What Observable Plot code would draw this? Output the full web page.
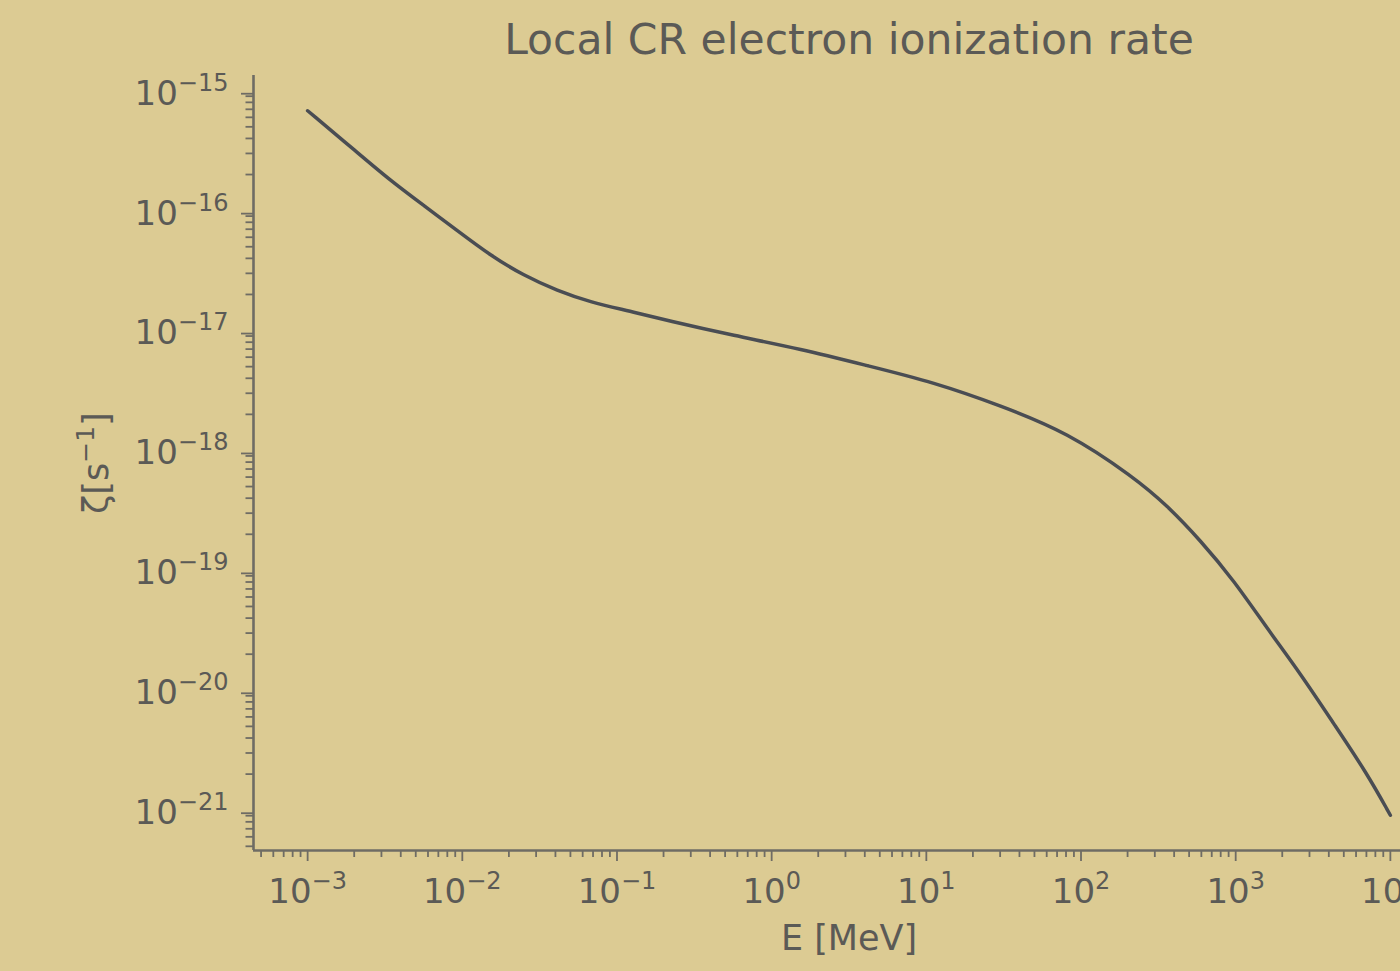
<!DOCTYPE html>
<html><head><meta charset="utf-8">
<script src="https://cdn.jsdelivr.net/npm/d3@7"></script>
<script src="https://cdn.jsdelivr.net/npm/@observablehq/plot@0.6"></script>
<style>
html,body{margin:0;padding:0;background:#dccb93;overflow:hidden;width:1400px;height:971px}
#chart{position:absolute;left:0;top:0}
#chart svg{max-width:none !important;width:1460px !important;height:971px !important}
</style></head><body><div id="chart"></div>
<script>
// ---- data ----
const energyMeV = [0.001, 0.002094, 0.003439, 0.005649, 0.00929, 0.01524, 0.025, 0.04111, 0.06745, 0.1225, 0.2113, 0.5702, 1.538, 4.15, 11.17, 30.2, 81.47, 219.3, 360.6, 591.6, 972.7, 1600, 2624, 4305, 7079, 10000];
const zeta = [6.81e-16, 3.06e-16, 1.778e-16, 1.102e-16, 6.81e-17, 4.22e-17, 2.87e-17, 2.15e-17, 1.72e-17, 1.449e-17, 1.211e-17, 9.08e-18, 7.03e-18, 5.10e-18, 3.71e-18, 2.37e-18, 1.422e-18, 6.00e-19, 3.48e-19, 1.778e-19, 8.26e-20, 3.27e-20, 1.377e-20, 5.27e-21, 2.02e-21, 9.08e-22];
const xMajor = [1e-3, 1e-2, 1e-1, 1, 10, 100, 1000, 10000];
const xExponents = ["−3", "−2", "−1", "0", "1", "2", "3", "4"];
const yMajor = [1e-21, 1e-20, 1e-19, 1e-18, 1e-17, 1e-16, 1e-15];
const yExponents = ["−21", "−20", "−19", "−18", "−17", "−16", "−15"];
const minorMultipliers = [2, 3, 4, 5, 6, 7, 8, 9];
const xMinorDecades = [1e-4, 1e-3, 1e-2, 1e-1, 1, 10, 100, 1000, 10000];
const yMinorDecades = [1e-22, 1e-21, 1e-20, 1e-19, 1e-18, 1e-17, 1e-16, 1e-15];
const titleText = "Local CR electron ionization rate";
const xLabel = "E [MeV]";
const yLabel = "ζ[s^{−1}]";

// ---- layout ----
const W = 1460, H = 971;
const xDomain = [Math.pow(10, -3.35), Math.pow(10, 4.35)];
const yDomain = [Math.pow(10, -21.336), Math.pow(10, -14.873)];
const inRange = (v, dom) => v >= dom[0] && v <= dom[1];
const xMinor = xMinorDecades.flatMap(d => minorMultipliers.map(m => m * d)).filter(v => inRange(v, xDomain));
const yMinor = yMinorDecades.flatMap(d => minorMultipliers.map(m => m * d)).filter(v => inRange(v, yDomain));
const data = energyMeV.map((E, i) => ({E, zeta: zeta[i]}));

const ink = "#6f6c64";
const textInk = "#5b5a56";

const chart = Plot.plot({
  width: W, height: H,
  marginLeft: 253, marginRight: W - 1444, marginTop: 75, marginBottom: 121,
  style: {background: "transparent", fontFamily: "DejaVu Sans", color: textInk, overflow: "visible"},
  x: {type: "log", domain: xDomain, axis: null, label: null},
  y: {type: "log", domain: yDomain, axis: null, label: null},
  marks: [
    Plot.axisX({ticks: xMinor, tickSize: 7, tickFormat: () => "", label: null, stroke: ink, strokeWidth: 1.8}),
    Plot.axisY({ticks: yMinor, tickSize: 7.5, tickFormat: () => "", label: null, stroke: ink, strokeWidth: 1.8}),
    Plot.axisX({ticks: xMajor, tickSize: 11, tickPadding: 17, fontSize: 34, label: null, fill: textInk, stroke: ink, strokeWidth: 1.8,
      tickFormat: d => "10^{" + xExponents[xMajor.indexOf(d)] + "}"}),
    Plot.axisY({ticks: yMajor, tickSize: 12, tickPadding: 13, fontSize: 34, label: null, fill: textInk, stroke: ink, strokeWidth: 1.8, dy: 3,
      tickFormat: d => "10^{" + yExponents[yMajor.indexOf(d)] + "}"}),
    Plot.ruleX([xDomain[0]], {stroke: ink, strokeWidth: 2.6}),
    Plot.ruleY([yDomain[0]], {stroke: ink, strokeWidth: 2.6}),
    Plot.line(data, {x: "E", y: "zeta", stroke: "#4a4d53", strokeWidth: 3.5, curve: "basis"}),
    Plot.text([titleText], {frameAnchor: "top", dy: -35, fontSize: 42.5, fill: textInk, lineAnchor: "middle"}),
    Plot.text([xLabel], {frameAnchor: "bottom", dy: 88, fontSize: 35, fill: textInk, lineAnchor: "middle"}),
    Plot.text([yLabel], {frameAnchor: "left", dx: -157, rotate: -90, fontSize: 35, fill: textInk, lineAnchor: "middle", textAnchor: "middle"})
  ]
});
document.getElementById("chart").appendChild(chart);

// convert "base^{exp}rest" into tspans with a superscript
d3.select(chart).selectAll("text").each(function () {
  const t = this.textContent;
  const m = t.match(/^(.*?)\^\{(.+?)\}(.*)$/);
  if (!m) return;
  const fs = parseFloat(getComputedStyle(this).fontSize) || 34;
  const shift = Math.round(fs * 0.4);
  const sel = d3.select(this);
  sel.text(null);
  sel.append("tspan").text(m[1]);
  sel.append("tspan").attr("font-size", Math.round(fs * 0.7)).attr("dy", -shift).text(m[2]);
  if (m[3]) sel.append("tspan").attr("dy", shift).text(m[3]);
});
</script></body></html>
